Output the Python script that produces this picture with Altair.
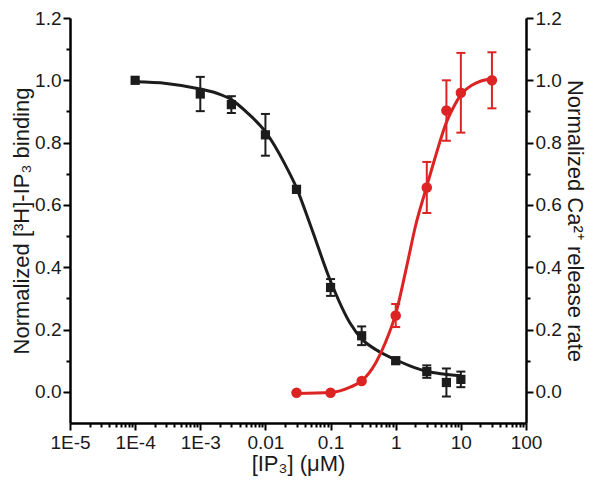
import altair as alt
import pandas as pd

# ---- data ----
# Black: [3H]-IP3 binding (left axis)
bind_x = [1e-4, 1e-3, 3e-3, 0.01, 0.03, 0.1, 0.3, 1, 3, 6, 10]
bind_y = [1.0, 0.956, 0.922, 0.825, 0.65, 0.335, 0.18, 0.10, 0.065, 0.03, 0.04]
bind_err = [0.0, 0.055, 0.027, 0.067, 0.01, 0.027, 0.03, 0.01, 0.02, 0.045, 0.025]

bind_curve_x = [1e-4, 3e-4, 1e-3, 2e-3, 3e-3, 5e-3, 0.01, 0.02, 0.03, 0.05, 0.1,
                0.2, 0.3, 0.5, 1, 2, 3, 5, 10]
bind_curve_y = [0.995, 0.99, 0.972, 0.955, 0.938, 0.9, 0.835, 0.73, 0.655, 0.53,
                0.355, 0.22, 0.17, 0.135, 0.103, 0.077, 0.066, 0.058, 0.052]

# Red: Ca2+ release rate (right axis)
rel_x = [0.03, 0.1, 0.3, 1, 3, 6, 10, 30]
rel_y = [-0.003, -0.003, 0.035, 0.245, 0.656, 0.903, 0.96, 1.0]
rel_err = [0.0, 0.0, 0.0, 0.037, 0.082, 0.097, 0.128, 0.09]

rel_curve_x = [0.03, 0.1, 0.2, 0.3, 0.5, 0.7, 1, 1.5, 2, 3, 4, 6, 8, 10, 15, 20, 30]
rel_curve_y = [-0.005, -0.002, 0.015, 0.035, 0.095, 0.16, 0.25, 0.41, 0.53, 0.66,
               0.75, 0.865, 0.92, 0.953, 0.985, 0.997, 1.005]

x_ticks = [k * 10.0 ** d for d in range(-5, 2) for k in range(1, 10)] + [100.0]
y_ticks = [round(i * 0.1, 1) for i in range(0, 13)]

BLACK = "#1c1c1c"
RED = "#dc2424"
FONT = "Liberation Sans"

bind_pts = pd.DataFrame({"x": bind_x, "y": bind_y, "err": bind_err})
bind_pts["lo"] = bind_pts["y"] - bind_pts["err"]
bind_pts["hi"] = bind_pts["y"] + bind_pts["err"]
bind_eb = bind_pts[bind_pts["err"] > 0]
bind_curve = pd.DataFrame({"x": bind_curve_x, "y": bind_curve_y})

rel_pts = pd.DataFrame({"x": rel_x, "y": rel_y, "err": rel_err})
rel_pts["lo"] = rel_pts["y"] - rel_pts["err"]
rel_pts["hi"] = rel_pts["y"] + rel_pts["err"]
rel_eb = rel_pts[rel_pts["err"] > 0]
rel_curve = pd.DataFrame({"x": rel_curve_x, "y": rel_curve_y})

x_major = "abs(log(datum.value)/LN10 - round(log(datum.value)/LN10)) < 0.000001"
y_major = "round(datum.value*10) % 2 == 0"

x_axis = alt.Axis(
    values=x_ticks,
    title="[IP₃] (μM)",
    labelExpr="(" + x_major + ") ? (datum.value < 0.005 ? '1E' + round(log(datum.value)/LN10) : format(datum.value, '~g')) : ''",
    labelOverlap=False,
    labelFlush=False,
    tickSize={"condition": {"test": x_major, "value": 7}, "value": 4},
    grid=False,
    labelPadding=3,
    titlePadding=1,
)
x_scale = alt.Scale(type="log", domain=[1e-5, 100], nice=False)


def yaxis(orient, title):
    return alt.Axis(
        orient=orient,
        values=y_ticks,
        title=title,
        labelExpr="(" + y_major + ") ? format(datum.value, '.1f') : ''",
        labelOverlap=False,
        labelFlush=False,
        tickSize={"condition": {"test": y_major, "value": 7}, "value": 4},
        grid=False,
        labelPadding=2,
        titlePadding=1,
    )


y_scale = alt.Scale(domain=[-0.1, 1.2], nice=False)


def group(pts, eb, curve, color, shape_mark, orient, title):
    ax = yaxis(orient, title)
    X = alt.X("x:Q", scale=x_scale, axis=x_axis)
    line = alt.Chart(curve).mark_line(color=color, strokeWidth=3, interpolate="monotone").encode(
        x=X, y=alt.Y("y:Q", scale=y_scale, axis=ax)
    )
    rule = alt.Chart(eb).mark_rule(color=color, strokeWidth=2).encode(
        x=X, y=alt.Y("lo:Q", scale=y_scale, axis=ax), y2="hi:Q"
    )
    cap_lo = alt.Chart(eb).mark_tick(color=color, orient="horizontal", size=9, thickness=2, opacity=1).encode(
        x=X, y=alt.Y("lo:Q", scale=y_scale, axis=ax)
    )
    cap_hi = alt.Chart(eb).mark_tick(color=color, orient="horizontal", size=9, thickness=2, opacity=1).encode(
        x=X, y=alt.Y("hi:Q", scale=y_scale, axis=ax)
    )
    if shape_mark == "square":
        pts_mark = alt.Chart(pts).mark_square(color=color, size=85, opacity=1)
    else:
        pts_mark = alt.Chart(pts).mark_circle(color=color, size=110, opacity=1)
    points = pts_mark.encode(x=X, y=alt.Y("y:Q", scale=y_scale, axis=ax))
    return alt.layer(line, rule, cap_lo, cap_hi, points)


left = group(bind_pts, bind_eb, bind_curve, BLACK, "square", "left", "Normalized [³H]-IP₃ binding")
right = group(rel_pts, rel_eb, rel_curve, RED, "circle", "right", "Normalized Ca²⁺ release rate")

chart = (
    alt.layer(left, right)
    .resolve_scale(y="independent")
    .properties(
        width=456,
        height=405,
        autosize=alt.AutoSizeParams(type="none"),
        padding={"left": 62, "top": 10, "right": 66, "bottom": 56},
    )
    .configure_view(stroke=None)
    .configure_axis(
        domainColor="#000000",
        domainWidth=2.5,
        tickColor="#000000",
        tickWidth=2,
        labelFont=FONT,
        labelFontSize=19,
        labelColor="#1a1a1a",
        titleFont=FONT,
        titleFontSize=22,
        titleFontWeight="normal",
        titleColor="#1a1a1a",
    )
)

chart.save("out.html", embed_options={"renderer": "svg", "actions": False})
